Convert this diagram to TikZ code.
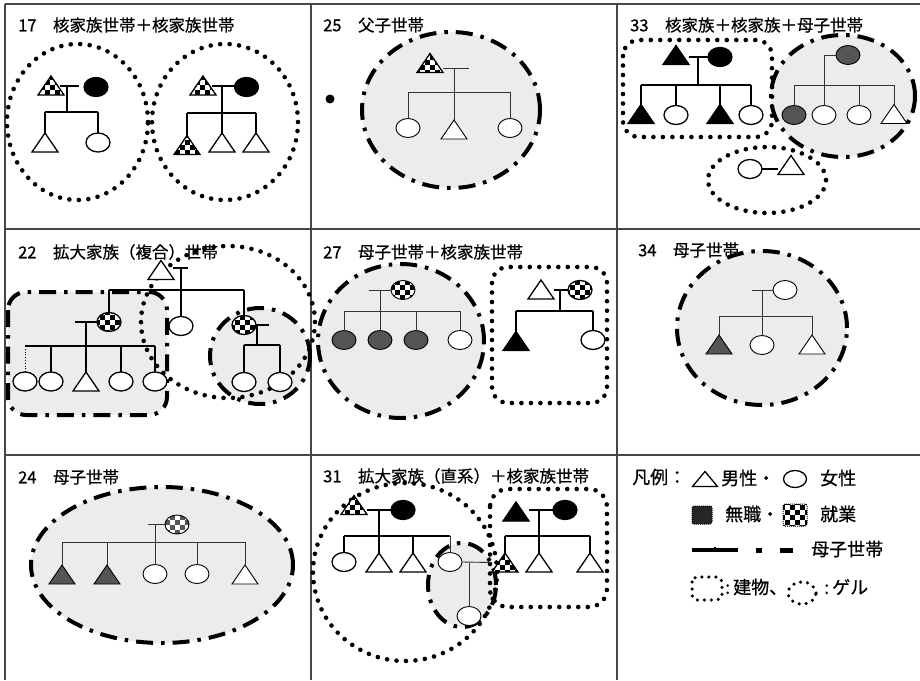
\documentclass[tikz,border=0pt]{standalone}
\usepackage{fontspec}
\setmainfont{Noto Sans CJK JP}[BoldFont={Noto Sans CJK JP},BoldFeatures={FakeBold=0.7}]
\usetikzlibrary{shapes.geometric,patterns.meta}
\definecolor{mcfill}{RGB}{236,236,236}
\definecolor{nodk}{RGB}{85,85,85}
\definecolor{gridc}{RGB}{70,70,70}
\tikzdeclarepattern{
  name=chk,
  type=uncolored,
  bottom left={(-.1pt,-.1pt)},
  top right={(10.1pt,10.1pt)},
  tile size={(10pt,10pt)},
  code={
    \fill (0pt,0pt) rectangle (5pt,5pt);
    \fill (5pt,5pt) rectangle (10pt,10pt);
  }
}
\newcommand\Tri[3][]{\node[trib] (#2) at (#3) {};\draw[symline,#1] (#2.south west) -- (#2.south east) -- (#2.north) -- cycle;}
\begin{document}
\begin{tikzpicture}[x=1pt,y=-1pt,
 grid/.style={draw=gridc,line width=1.3pt},
 fam/.style={draw=black,line width=1.3pt},
 famg/.style={draw=black!80,line width=0.9pt},
 symline/.style={draw=black,line width=1.3pt,fill=white,line join=miter},
 trib/.style={rectangle,draw=none,fill=none,inner sep=0pt,outer sep=0pt,minimum width=26pt,minimum height=19pt},
 ell/.style={ellipse,draw=black,line width=1.3pt,fill=white,minimum width=24pt,minimum height=19pt,inner sep=0pt,outer sep=0pt},
 lt/.style={line width=0.9pt},
 chkfill/.style={preaction={fill=white},pattern=chk,pattern color=black},
 chkgrey/.style={preaction={fill=white},pattern=chk,pattern color=nodk},
 ger/.style={draw=black,line width=4.6pt,line cap=round,dash pattern=on 0pt off 9.5pt},
 mcb/.style={draw=black,line width=4pt,dash pattern=on 17pt off 8pt on 3.5pt off 8pt},
 mcf/.style={fill=mcfill},
 ttl/.style={anchor=west,inner sep=0pt,font=\fontsize{16.5}{18}\selectfont\bfseries},
 lgd/.style={anchor=west,inner sep=0pt,font=\fontsize{18}{20}\selectfont\bfseries},
]
\useasboundingbox (0,0) rectangle (920,680);

% ---------- grid ----------
\draw[grid] (5,4) -- (920,4);
\draw[grid] (5,229) -- (920,229);
\draw[grid] (5,455) -- (920,455);
\draw[grid] (5,4) -- (5,680);
\draw[grid] (311,4) -- (311,680);
\draw[grid] (617,4) -- (617,680);

% ---------- grey mother-child regions ----------
\path[mcf] (451,110) ellipse [x radius=89pt,y radius=78pt];
\path[mcf] (843,96) ellipse [x radius=72pt,y radius=61pt];
\path[mcf,rounded corners=18pt] (8,292) rectangle (167,415);
\path[mcf] (260,356) ellipse [x radius=50pt,y radius=48pt];
\path[mcf] (401,341) ellipse [x radius=83pt,y radius=77pt];
\path[mcf] (762,328) ellipse [x radius=85pt,y radius=77pt];
\path[mcf] (162,565) ellipse [x radius=131pt,y radius=78pt];
\path[mcf] (462,585) ellipse [x radius=34pt,y radius=42pt];

\draw[mcb] (451,110) ellipse [x radius=89pt,y radius=78pt];
\draw[mcb] (843,96) ellipse [x radius=72pt,y radius=61pt];
\draw[mcb,rounded corners=18pt] (8,292) rectangle (167,415);
\draw[mcb] (260,356) ellipse [x radius=50pt,y radius=48pt];
\draw[mcb] (401,341) ellipse [x radius=83pt,y radius=77pt];
\draw[mcb] (762,328) ellipse [x radius=85pt,y radius=77pt];
\draw[mcb] (162,565) ellipse [x radius=131pt,y radius=78pt];
\draw[mcb] (462,585) ellipse [x radius=34pt,y radius=42pt];

% ---------- gers and buildings ----------
\draw[ger] (77.5,122) ellipse [x radius=70.5pt,y radius=78pt];
\draw[ger] (225,122) ellipse [x radius=73pt,y radius=78pt];
\draw[ger,rounded corners=16pt] (623,40) rectangle (772,137);
\draw[ger] (767,180) ellipse [x radius=59pt,y radius=33pt];
\draw[ger] (228,322) ellipse [x radius=87pt,y radius=76pt];
\draw[ger,rounded corners=16pt] (492,267) rectangle (607,403);
\draw[ger] (405,572) ellipse [x radius=92pt,y radius=89pt];
\draw[ger,rounded corners=18pt] (490,489) rectangle (607,607);

% ---------- titles ----------
\node[ttl] (tA) at (18,25) {17　核家族世帯＋核家族世帯};
\node[ttl] (tB) at (323,25) {25　父子世帯};
\node[ttl] (tC) at (630,25) {33　核家族＋核家族＋母子世帯};
\node[ttl] (tD) at (18,252) {22　拡大家族（複合）世帯};
\node[ttl] (tE) at (323,252) {27　母子世帯＋核家族世帯};
\node[ttl] (tF) at (638,250) {34　母子世帯};
\node[ttl] (tG) at (18,477) {24　母子世帯};
\node[ttl] (tH) at (323,476) {31　拡大家族（直系）＋核家族世帯};

% ================= Panel 17 =================
\Tri[chkfill]{a1f}{51,85.5}
\node[ell,fill=black] (a1m) at (96,87) {};
\coordinate (a1s) at (60,86); \coordinate (a1e) at (79,86);
\coordinate (a1j) at (67,86);
\coordinate (a1bl) at (45,112); \coordinate (a1br) at (98,112);
\Tri{a1c1}{45,142.5}
\node[ell] (a1c2) at (98,142.5) {};
\draw[fam] (a1s) -- (a1e);
\draw[fam] (a1j) -- (a1j |- a1bl);
\draw[fam] (a1bl) -- (a1br);
\draw[fam] (a1bl) -- (a1c1.north);
\draw[fam] (a1br) -- (a1c2.north);

\Tri[chkfill]{a2f}{203,85.5}
\node[ell,fill=black] (a2m) at (246.5,87) {};
\coordinate (a2s) at (212,86); \coordinate (a2e) at (235,86);
\coordinate (a2j) at (222,86);
\coordinate (a2bl) at (187,113); \coordinate (a2br) at (256,113);
\Tri[chkfill]{a2c1}{187,145}
\Tri{a2c2}{222,142.5}
\Tri{a2c3}{256,142.5}
\draw[fam] (a2s) -- (a2e);
\draw[fam] (a2j) -- (a2c2.north);
\draw[fam] (a2bl) -- (a2br);
\draw[fam] (a2bl) -- ([yshift=-2pt]a2c1.north);
\draw[fam] (a2br) -- (a2c3.north);

% ================= Panel 25 =================
\node[circle,fill=black,inner sep=0pt,minimum size=9pt] (bdot) at (330,99) {};
\Tri[chkfill]{bf}{430,63}
\coordinate (bs) at (443,68); \coordinate (be) at (469,68);
\coordinate (bj) at (454,68);
\coordinate (bbl) at (408,92); \coordinate (bbr) at (510,92);
\node[ell,lt] (bc1) at (408,128) {};
\Tri[lt]{bc2}{454,129.5}
\node[ell,lt] (bc3) at (510,128) {};
\draw[famg] (bs) -- (be);
\draw[famg] (bj) -- (bc2.north);
\draw[famg] (bbl) -- (bbr);
\draw[famg] (bbl) -- (bc1.north);
\draw[famg] (bbr) -- (bc3.north);

% ================= Panel 33 =================
\Tri[fill=black]{c1f}{676,55}
\node[ell,fill=black] (c1m) at (720,57) {};
\coordinate (c1j) at (698,57);
\coordinate (c1bl) at (641,85); \coordinate (c1br) at (751,85);
\Tri[fill=black]{c1c1}{641,114}
\node[ell] (c1c2) at (676,115) {};
\Tri[fill=black]{c1c3}{720,114}
\node[ell] (c1c4) at (751,115) {};
\draw[fam] (c1f.east |- c1m.west) -- (c1m.west);
\draw[fam] (c1j) -- (c1j |- c1bl);
\draw[fam] (c1bl) -- (c1br);
\draw[fam] (c1bl) -- (c1c1.north);
\draw[fam] (c1c2.north |- c1bl) -- (c1c2.north);
\draw[fam] (c1c3.north |- c1bl) -- (c1c3.north);
\draw[fam] (c1br) -- (c1c4.north);

\node[ell,lt,fill=nodk] (c2m) at (848,55) {};
\coordinate (c2k) at (824,55);
\coordinate (c2bl) at (794,85); \coordinate (c2br) at (894,85);
\node[ell,lt,fill=nodk] (c2c1) at (794,115) {};
\node[ell,lt] (c2c2) at (824,115) {};
\node[ell,lt] (c2c3) at (859,115) {};
\Tri[lt]{c2c4}{894,114}
\draw[famg] (c2m.west) -- (c2k) -- (c2c2.north);
\draw[famg] (c2bl) -- (c2br);
\draw[famg] (c2bl) -- (c2c1.north);
\draw[famg] (c2c3.north |- c2bl) -- (c2c3.north);
\draw[famg] (c2br) -- (c2c4.north);

\node[ell] (c3a) at (750,169) {};
\Tri{c3b}{791,165}
\draw[fam] (c3a.east) -- (c3b.west |- c3a.east);

% ================= Panel 22 =================
\Tri{d0f}{161,270}
\coordinate (d0s) at (173,268); \coordinate (d0e) at (188,268);
\coordinate (d0j) at (181,268);
\coordinate (d0bl) at (109,290); \coordinate (d0br) at (244,290);
\node[ell,chkfill] (d0c1) at (109,322) {};
\node[ell] (d0c2) at (181,326) {};
\node[ell,chkfill] (d0c3) at (244,325) {};
\draw[fam] (d0s) -- (d0e);
\draw[fam] (d0j) -- (d0c2.north);
\draw[fam] (d0bl) -- (d0br);
\draw[fam] (d0bl) -- (d0c1.north);
\draw[fam] (d0br) -- (d0c3.north);

\coordinate (d1s) at (75,322);
\coordinate (d1j) at (86,322);
\coordinate (d1bl) at (25,346); \coordinate (d1br) at (155,346);
\node[ell] (d1c1) at (25,381.5) {};
\node[ell] (d1c2) at (51,381.5) {};
\Tri{d1c3}{86,381.5}
\node[ell] (d1c4) at (121,381.5) {};
\node[ell] (d1c5) at (155,381.5) {};
\draw[fam] (d1s) -- (d0c1.west);
\draw[fam] (d1j) -- (d1c3.north);
\draw[fam] (d1bl) -- (d1br);
\draw[line width=0.8pt,dotted] (d1bl) -- (d1c1.north);
\draw[fam] (d1c2.north |- d1bl) -- (d1c2.north);
\draw[fam] (d1c4.north |- d1bl) -- (d1c4.north);
\draw[fam] (d1br) -- (d1c5.north);

\coordinate (d2s) at (269,325);
\coordinate (d2j) at (257,325);
\coordinate (d2bl) at (244,345); \coordinate (d2br) at (280,345);
\node[ell] (d2c1) at (244,382) {};
\node[ell] (d2c2) at (280,382) {};
\draw[fam] (d0c3.east) -- (d2s);
\draw[fam] (d2j) -- (d2j |- d2bl);
\draw[fam] (d2bl) -- (d2br);
\draw[fam] (d2bl) -- (d2c1.north);
\draw[fam] (d2br) -- (d2c2.north);

% ================= Panel 27 =================
\node[ell,lt,chkfill] (e1m) at (403,290) {};
\coordinate (e1s) at (369,290);
\coordinate (e1j) at (380,290);
\coordinate (e1bl) at (344,311); \coordinate (e1br) at (460,311);
\node[ell,lt,fill=nodk] (e1c1) at (344,340) {};
\node[ell,lt,fill=nodk] (e1c2) at (380,340) {};
\node[ell,lt,fill=nodk] (e1c3) at (416,340) {};
\node[ell,lt] (e1c4) at (460,340) {};
\draw[famg] (e1s) -- (e1m.west);
\draw[famg] (e1j) -- (e1c2.north);
\draw[famg] (e1bl) -- (e1br);
\draw[famg] (e1bl) -- (e1c1.north);
\draw[famg] (e1c3.north |- e1bl) -- (e1c3.north);
\draw[famg] (e1br) -- (e1c4.north);

\Tri{e2f}{541,289.5}
\node[ell,chkfill] (e2m) at (580,290) {};
\coordinate (e2j) at (560,290);
\coordinate (e2bl) at (516,311); \coordinate (e2br) at (593,311);
\Tri[fill=black]{e2c1}{516,341}
\node[ell] (e2c2) at (593,340) {};
\draw[fam] (e2f.east |- e2m.west) -- (e2m.west);
\draw[fam] (e2j) -- (e2j |- e2bl);
\draw[fam] (e2bl) -- (e2br);
\draw[fam] (e2bl) -- (e2c1.north);
\draw[fam] (e2br) -- (e2c2.north);

% ================= Panel 34 =================
\node[ell,lt] (f1m) at (785,290) {};
\coordinate (f1s) at (752,290);
\coordinate (f1j) at (762,290);
\coordinate (f1bl) at (719,316); \coordinate (f1br) at (812,316);
\Tri[lt,fill=nodk]{f1c1}{719,344.5}
\node[ell,lt] (f1c2) at (762,345) {};
\Tri[lt]{f1c3}{812,344.5}
\draw[famg] (f1s) -- (f1m.west);
\draw[famg] (f1j) -- (f1c2.north);
\draw[famg] (f1bl) -- (f1br);
\draw[famg] (f1bl) -- (f1c1.north);
\draw[famg] (f1br) -- (f1c3.north);

% ================= Panel 24 =================
\node[ell,lt,chkgrey] (g1m) at (177,524.5) {};
\coordinate (g1s) at (148,524.5);
\coordinate (g1j) at (155,524.5);
\coordinate (g1bl) at (62,542); \coordinate (g1br) at (245,542);
\Tri[lt,fill=nodk]{g1c1}{62,574.5}
\Tri[lt,fill=nodk]{g1c2}{107,574.5}
\node[ell,lt] (g1c3) at (155,574) {};
\node[ell,lt] (g1c4) at (197,574) {};
\Tri[lt]{g1c5}{245,574.5}
\draw[famg] (g1s) -- (g1m.west);
\draw[famg] (g1j) -- (g1c3.north);
\draw[famg] (g1bl) -- (g1br);
\draw[famg] (g1bl) -- (g1c1.north);
\draw[famg] (g1c2.north |- g1bl) -- (g1c2.north);
\draw[famg] (g1c4.north |- g1bl) -- (g1c4.north);
\draw[famg] (g1br) -- (g1c5.north);

% ================= Panel 31 =================
\Tri[chkfill]{h1f}{354,505}
\node[ell,fill=black] (h1m) at (403,510) {};
\coordinate (h1j) at (379,510);
\coordinate (h1bl) at (344,536); \coordinate (h1br) at (450,536);
\node[ell] (h1c1) at (344,562) {};
\Tri{h1c2}{379,562.5}
\Tri{h1c3}{413,562.5}
\node[ell,lt] (h1c4) at (450,562) {};
\coordinate (h1k) at (469,562.5);
\node[ell,lt] (h1c5) at (469,616) {};
\draw[fam] (h1f.east |- h1m.west) -- (h1m.west);
\draw[fam] (h1j) -- (h1c2.north);
\draw[fam] (h1bl) -- (h1br);
\draw[fam] (h1bl) -- (h1c1.north);
\draw[fam] (h1c3.north |- h1bl) -- (h1c3.north);
\draw[famg] (h1br) -- (h1c4.north);

\Tri[fill=black]{h2f}{516,511.5}
\node[ell,fill=black] (h2m) at (565,510) {};
\coordinate (h2j) at (539,510);
\coordinate (h2bl) at (505,536); \coordinate (h2br) at (590,536);
\Tri[chkfill]{h2c1}{505,562.5}
\Tri{h2c2}{539,562.5}
\Tri{h2c3}{590,562.5}
\draw[fam] (h2f.east |- h2m.west) -- (h2m.west);
\draw[fam] (h2j) -- (h2c2.north);
\draw[fam] (h2bl) -- (h2br);
\draw[fam] (h2bl) -- (h2c1.north);
\draw[fam] (h2br) -- (h2c3.north);

\draw[famg] (h1c4.east) -- (h2c1.west);
\draw[famg] (h1k) -- (h1c5.north);

% ================= Legend =================
\node[lgd] (l0) at (632,477) {凡例：};
\node[trib,minimum width=25pt,minimum height=15pt] (ltri) at (705,479) {};
\draw[symline] (ltri.south west) -- (ltri.south east) -- (ltri.north) -- cycle;
\node[lgd] (l1) at (721,478) {男性・};
\node[ell,minimum width=23pt,minimum height=17pt] (lell) at (795,479) {};
\node[lgd] (l2) at (820,478) {女性};

\node[rectangle,draw=black,densely dotted,line width=1pt,fill=black!85,rounded corners=2pt,minimum width=20pt,minimum height=18pt,inner sep=0pt] (lnw) at (702,515) {};
\node[lgd] (l3) at (725,514) {無職・};
\node[rectangle,draw=black,densely dotted,line width=1pt,chkfill,rounded corners=2pt,minimum width=24pt,minimum height=22pt,inner sep=0pt] (ljob) at (795,515) {};
\node[lgd] (l4) at (820,514) {就業};

\coordinate (lm1) at (692,550); \coordinate (lm2) at (738,550);
\draw[line width=4.5pt] (lm1) -- (lm2);
\fill (714,546.5) rectangle (716,548);
\fill (756,547.5) rectangle (762,552.5);
\fill (780,547.5) rectangle (793,552.5);
\node[lgd] (l5) at (811,549) {母子世帯};

\draw[draw=black,line width=3.5pt,line cap=round,dash pattern=on 0pt off 7pt,rounded corners=5pt] (692,577) rectangle (722,600);
\node[lgd] (l6) at (725,587) {:\,建物、};
\draw[draw=black,line width=3.5pt,line cap=round,dash pattern=on 0pt off 7pt] (802,593) ellipse [x radius=14pt,y radius=11pt];
\node[lgd] (l7) at (824,587) {:\,ゲル};
\end{tikzpicture}
\end{document}
